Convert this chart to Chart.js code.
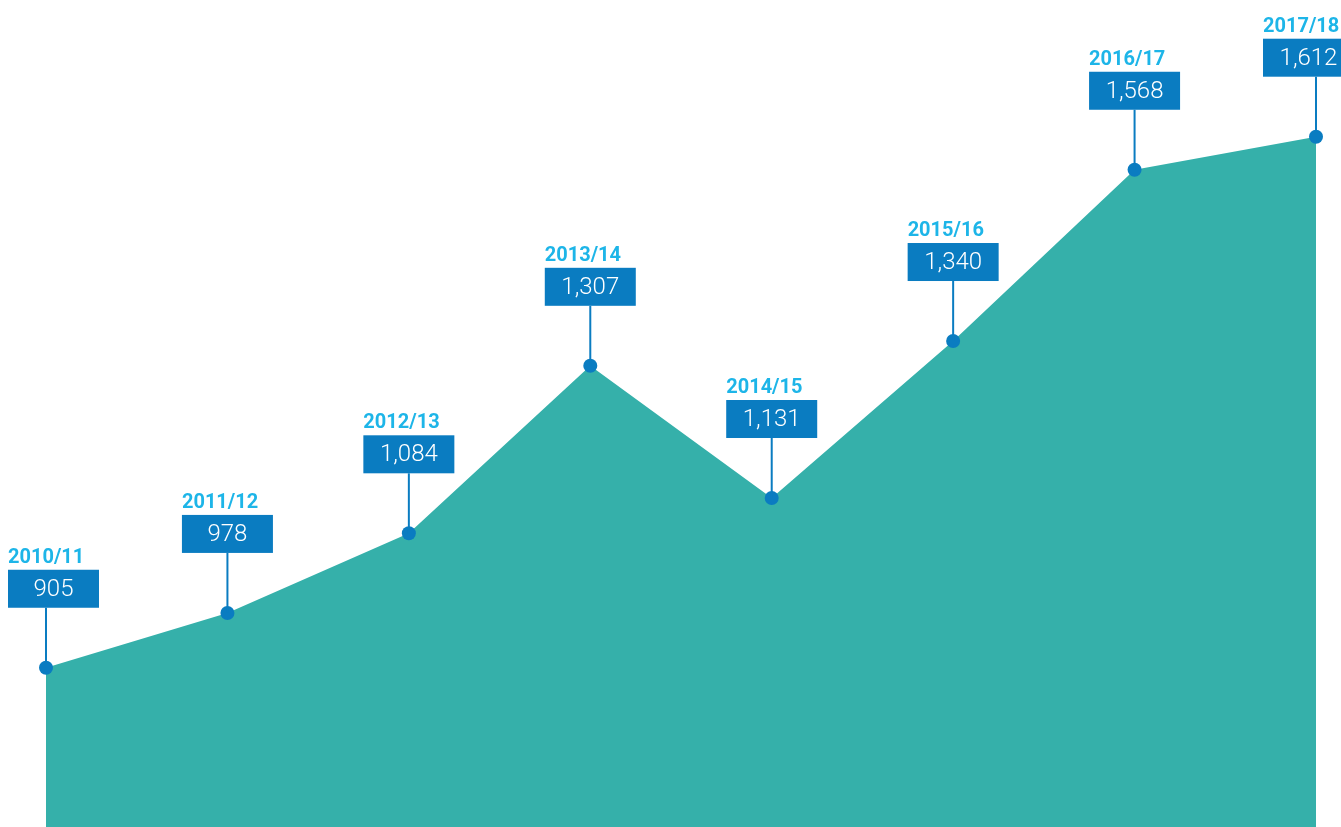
<!DOCTYPE html>
<html>
<head>
<meta charset="utf-8">
<script src="https://cdn.jsdelivr.net/npm/chart.js@4/dist/chart.umd.min.js"></script>
<style>
  html, body { margin: 0; padding: 0; background: #fff; }
  #wrap { width: 1341px; height: 827px; }
</style>
</head>
<body>
<div id="wrap"><canvas id="myChart"></canvas></div>
<script>
// datos del grafico
const anios = ['2010/11', '2011/12', '2012/13', '2013/14', '2014/15', '2015/16', '2016/17', '2017/18'];
const valores = [905, 978, 1084, 1307, 1131, 1340, 1568, 1612];
const etiquetas = ['905', '978', '1,084', '1,307', '1,131', '1,340', '1,568', '1,612'];

const colorArea = '#35b0aa';
const colorAzul = '#0a7cc1';
const colorAnio = '#1db5e8';

// dibuja la caja azul, el año y la linea hacia el punto
const etiquetasPlugin = {
    id: 'etiquetas',
    afterDatasetsDraw(chart){
        let ctx = chart.ctx;
        let meta = chart.getDatasetMeta(0);
        let anchoCaja = 91;
        let altoCaja = 38;
        let largoLinea = 60;
        ctx.save();
        for(var i = 0; i < meta.data.length; i++){
            let p = meta.data[i];
            let x = p.x;
            let y = p.y;
            let cajaTop = y - largoLinea - altoCaja;
            let cajaLeft = x - anchoCaja / 2;
            if(cajaLeft < 8) cajaLeft = 8;
            if(cajaLeft + anchoCaja > chart.width) cajaLeft = chart.width - anchoCaja + 13;

            // linea
            ctx.strokeStyle = colorAzul;
            ctx.lineWidth = 2;
            ctx.beginPath();
            ctx.moveTo(x, cajaTop + altoCaja);
            ctx.lineTo(x, y);
            ctx.stroke();

            // caja
            ctx.fillStyle = colorAzul;
            ctx.fillRect(cajaLeft, cajaTop, anchoCaja, altoCaja);

            // valor
            ctx.fillStyle = '#ffffff';
            ctx.font = '300 24px Roboto';
            ctx.textAlign = 'center';
            ctx.textBaseline = 'middle';
            ctx.fillText(etiquetas[i], cajaLeft + anchoCaja / 2, cajaTop + altoCaja / 2 + 1);

            // año
            ctx.fillStyle = colorAnio;
            ctx.font = 'bold 20px Roboto';
            ctx.textAlign = 'left';
            ctx.textBaseline = 'alphabetic';
            ctx.fillText(anios[i], cajaLeft, cajaTop - 7);
        }
        ctx.restore();
    }
};

let myChart = new Chart(document.getElementById('myChart'), {
    type: 'line',
    data: {
        labels: anios,
        datasets: [{
            data: valores,
            fill: 'start',
            backgroundColor: colorArea,
            borderColor: colorArea,
            borderWidth: 0,
            tension: 0,
            pointRadius: 7,
            pointHoverRadius: 7,
            pointBackgroundColor: colorAzul,
            pointBorderColor: colorAzul,
            pointBorderWidth: 0
        }]
    },
    options: {
        responsive: true,
        maintainAspectRatio: false,
        animation: false,
        layout: {
            autoPadding: false,
            padding: { left: 46, right: 25, top: 0, bottom: 0 }
        },
        plugins: {
            legend: { display: false },
            tooltip: { enabled: false }
        },
        scales: {
            x: {
                display: false,
                offset: false
            },
            y: {
                display: false,
                min: 693,
                max: 1794
            }
        }
    },
    plugins: [etiquetasPlugin]
});
</script>
</body>
</html>
